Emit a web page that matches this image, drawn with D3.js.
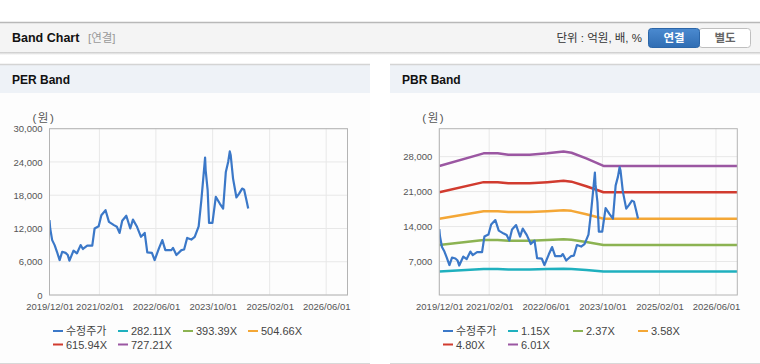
<!DOCTYPE html>
<html>
<head>
<meta charset="utf-8">
<script src="https://cdn.jsdelivr.net/npm/d3@7"></script>
<style>
  body { margin: 0; background: #fff; }
  text { font-family: "Liberation Sans", Arial, "Noto Sans CJK KR", sans-serif; }
</style>
</head>
<body>
<div id="chart"></div>
<script>
// adjusted price (수정주가)
const priceDates = ['2019-12-01','2019-12-07','2019-12-24','2020-01-14','2020-02-03','2020-02-26','2020-03-19','2020-04-17','2020-05-06','2020-05-20','2020-06-24','2020-07-23','2020-08-24','2020-09-13','2020-10-20','2020-12-02','2020-12-22','2021-01-26','2021-02-18','2021-03-26','2021-04-24','2021-06-06','2021-07-01','2021-07-24','2021-08-16','2021-09-20','2021-10-24','2021-11-16','2021-12-21','2022-01-24','2022-02-25','2022-03-19','2022-04-28','2022-05-21','2022-06-27','2022-07-26','2022-08-21','2022-10-12','2022-10-26','2022-11-24','2023-01-06','2023-01-29','2023-02-24','2023-04-01','2023-04-30','2023-06-03','2023-06-26','2023-07-16','2023-07-28','2023-08-02','2023-08-19','2023-08-31','2023-09-29','2023-10-28','2023-12-01','2023-12-30','2024-01-22','2024-02-11','2024-02-25','2024-03-04','2024-03-24','2024-04-22','2024-05-15','2024-06-10','2024-06-27','2024-07-17','2024-08-01'];
const priceValues = [13500,12000,9900,9000,7800,6300,7800,7600,7200,6200,8000,7500,9000,8300,8900,8900,12000,12400,14400,15300,13200,12600,12300,11200,13400,14300,12000,13600,12300,10500,11200,7700,7600,6300,8400,9900,8100,8100,8500,7200,8100,8200,10300,10000,10500,12400,17100,21900,24800,22500,18900,13000,13000,17700,16500,15600,22200,24000,25900,25200,21000,17600,18300,19200,19000,17100,15600];

// book value per share behind the PBR bands
const bpsDates = ['2019-12-01','2020-12-15','2021-04-15','2021-07-15','2022-01-15','2022-06-15','2022-11-01','2023-01-08','2023-05-15','2023-10-10','2026-12-01'];
const bpsValues = [4350,4770,4770,4720,4720,4770,4830,4790,4600,4350,4350];

const perLabels = ['282.11X','393.39X','504.66X','615.94X','727.21X'];
const pbrMultiples = [1.15, 2.37, 3.58, 4.80, 6.01];
const bandColors = ['#1fb0be','#8cb352','#f4a736','#d13b2f','#9b57a2'];
const priceColor = '#3b78c8';

const xTickLabels = ['2019/12/01','2021/02/01','2022/06/01','2023/10/01','2025/02/01','2026/06/01'];
const perTicks = [0, 6000, 12000, 18000, 24000, 30000];
const pbrTicks = [7000, 14000, 21000, 28000];

const parse = d3.timeParse('%Y-%m-%d');
const parseTick = d3.timeParse('%Y/%m/%d');
const fmt = d3.format(',');

const svg = d3.select('#chart').append('svg')
  .attr('width', 760)
  .attr('height', 364);

const defs = svg.append('defs');
const shadow = defs.append('linearGradient').attr('id', 'shadow').attr('x1', 0).attr('x2', 0).attr('y1', 0).attr('y2', 1);
shadow.append('stop').attr('offset', '0%').attr('stop-color', '#c8c8c8');
shadow.append('stop').attr('offset', '100%').attr('stop-color', '#fff');
const blueBtn = defs.append('linearGradient').attr('id', 'blueBtn').attr('x1', 0).attr('x2', 0).attr('y1', 0).attr('y2', 1);
blueBtn.append('stop').attr('offset', '0%').attr('stop-color', '#4b8ad0');
blueBtn.append('stop').attr('offset', '100%').attr('stop-color', '#2f6db3');

// top header bar
svg.append('rect').attr('x', 0).attr('y', 22).attr('width', 760).attr('height', 31).attr('fill', '#f4f4f4');
svg.append('line').attr('x1', 0).attr('x2', 760).attr('y1', 22.5).attr('y2', 22.5).attr('stroke', '#b8b8b8').attr('stroke-width', 1.5);
svg.append('rect').attr('x', 0).attr('y', 52).attr('width', 760).attr('height', 3).attr('fill', 'url(#shadow)');

svg.append('text').attr('x', 12).attr('y', 42).attr('font-size', 12.5).attr('font-weight', 'bold').attr('fill', '#111').text('Band Chart');
svg.append('text').attr('x', 88).attr('y', 42).attr('font-size', 11.5).attr('fill', '#999').text('[연결]');
svg.append('text').attr('x', 642).attr('y', 42).attr('font-size', 11.5).attr('fill', '#333').attr('text-anchor', 'end').text('단위 : 억원, 배, %');

svg.append('rect').attr('x', 699).attr('y', 28.5).attr('width', 51.5).attr('height', 19).attr('rx', 3)
  .attr('fill', '#fff').attr('stroke', '#bfbfbf');
svg.append('rect').attr('x', 648.5).attr('y', 28.5).attr('width', 51).attr('height', 19).attr('rx', 3)
  .attr('fill', 'url(#blueBtn)').attr('stroke', '#2c66a8');
svg.append('text').attr('x', 674).attr('y', 42).attr('font-size', 11.5).attr('font-weight', 'bold').attr('fill', '#fff').attr('text-anchor', 'middle').text('연결');
svg.append('text').attr('x', 725).attr('y', 42).attr('font-size', 11.5).attr('font-weight', 'bold').attr('fill', '#666').attr('text-anchor', 'middle').text('별도');

const xDomain = [parse('2019-12-01'), parse('2026-12-01')];

function drawPanel(opts) {
  const g = svg.append('g').attr('transform', `translate(${opts.x0},0)`);

  g.append('rect').attr('x', 0).attr('y', 64).attr('width', 370).attr('height', 300).attr('fill', '#fdfdfd');
  g.append('rect').attr('x', 0).attr('y', 65).attr('width', 370).attr('height', 28).attr('fill', '#eef2f7');
  g.append('line').attr('x1', 0).attr('x2', 370).attr('y1', 64.5).attr('y2', 64.5).attr('stroke', '#d4d4d4').attr('stroke-width', 1.5);
  g.append('line').attr('x1', 0).attr('x2', 370).attr('y1', 363.5).attr('y2', 363.5).attr('stroke', '#d8d8d8');
  g.append('text').attr('x', 12).attr('y', 84).attr('font-size', 12).attr('font-weight', 'bold').attr('fill', '#111').text(opts.title);

  const left = opts.left, right = opts.left + 298, top = 128.7, bottom = 295;
  const x = d3.scaleTime().domain(xDomain).range([left, right]);
  const y = d3.scaleLinear().domain(opts.yDomain).range([bottom, top]);
  const xTicks = xTickLabels.map(parseTick);

  g.append('text').attr('x', opts.left - 17).attr('y', 121.5).attr('font-size', 11.5)
    .attr('letter-spacing', 1.5).attr('fill', '#555').text('(원)');

  // grid
  g.selectAll('.vgrid').data(xTicks).enter().append('line')
    .attr('x1', d => x(d)).attr('x2', d => x(d)).attr('y1', top).attr('y2', bottom)
    .attr('stroke', '#e8e8e8');
  g.selectAll('.hgrid').data(opts.yTicks).enter().append('line')
    .attr('x1', left).attr('x2', right).attr('y1', d => y(d)).attr('y2', d => y(d))
    .attr('stroke', '#e8e8e8');

  const clipId = 'clip' + opts.x0;
  defs.append('clipPath').attr('id', clipId).append('rect')
    .attr('x', left).attr('y', top).attr('width', right - left).attr('height', bottom - top);
  const plot = g.append('g').attr('clip-path', `url(#${clipId})`);

  const line = d3.line().x(d => x(d.date)).y(d => y(d.value));

  if (opts.multiples) {
    const bps = bpsDates.map((d, i) => ({date: parse(d), value: bpsValues[i]}));
    opts.multiples.forEach((m, k) => {
      plot.append('path')
        .datum(bps.map(p => ({date: p.date, value: p.value * m})))
        .attr('d', line)
        .attr('fill', 'none')
        .attr('stroke', bandColors[k])
        .attr('stroke-width', 2.5)
        .attr('stroke-linejoin', 'round');
    });
  }

  plot.append('path')
    .datum(priceDates.map((d, i) => ({date: parse(d), value: priceValues[i]})))
    .attr('d', line)
    .attr('fill', 'none')
    .attr('stroke', priceColor)
    .attr('stroke-width', 2.2)
    .attr('stroke-linejoin', 'round');

  // frame
  g.append('rect').attr('x', left).attr('y', top).attr('width', right - left).attr('height', bottom - top)
    .attr('fill', 'none').attr('stroke', '#b4b4b4');

  const yAxis = g.append('g').attr('transform', `translate(${left},0)`)
    .call(d3.axisLeft(y).tickValues(opts.yTicks).tickSize(0).tickPadding(7).tickFormat(fmt));
  yAxis.select('.domain').remove();
  yAxis.selectAll('text').attr('font-size', 9.5).attr('fill', '#555').attr('font-family', null);

  const xAxis = g.append('g').attr('transform', `translate(0,${bottom})`)
    .call(d3.axisBottom(x).tickValues(xTicks).tickSize(0).tickPadding(8).tickFormat(d3.timeFormat('%Y/%m/%d')));
  xAxis.select('.domain').remove();
  xAxis.selectAll('text').attr('font-size', 9.5).attr('fill', '#555').attr('font-family', null);

  // legend
  const items = [{label: '수정주가', color: priceColor}].concat(opts.labels.map((l, i) => ({label: l, color: bandColors[i]})));
  const leg = g.selectAll('.leg').data(items).enter().append('g')
    .attr('transform', (d, i) => `translate(${53 + (i % 4) * 65},${i < 4 ? 331 : 344.5})`);
  leg.append('line').attr('x1', 0).attr('x2', 10).attr('y1', 0).attr('y2', 0)
    .attr('stroke', d => d.color).attr('stroke-width', 2);
  leg.append('text').attr('x', 13).attr('y', 4).attr('font-size', 11).attr('fill', '#444').text(d => d.label);
}

drawPanel({
  x0: 0, left: 49.5, title: 'PER Band',
  yDomain: [0, 30000], yTicks: perTicks,
  labels: perLabels
});

drawPanel({
  x0: 390, left: 49.3, title: 'PBR Band',
  yDomain: [300, 33600], yTicks: pbrTicks,
  labels: pbrMultiples.map(m => m.toFixed(2) + 'X'),
  multiples: pbrMultiples
});
</script>
</body>
</html>
